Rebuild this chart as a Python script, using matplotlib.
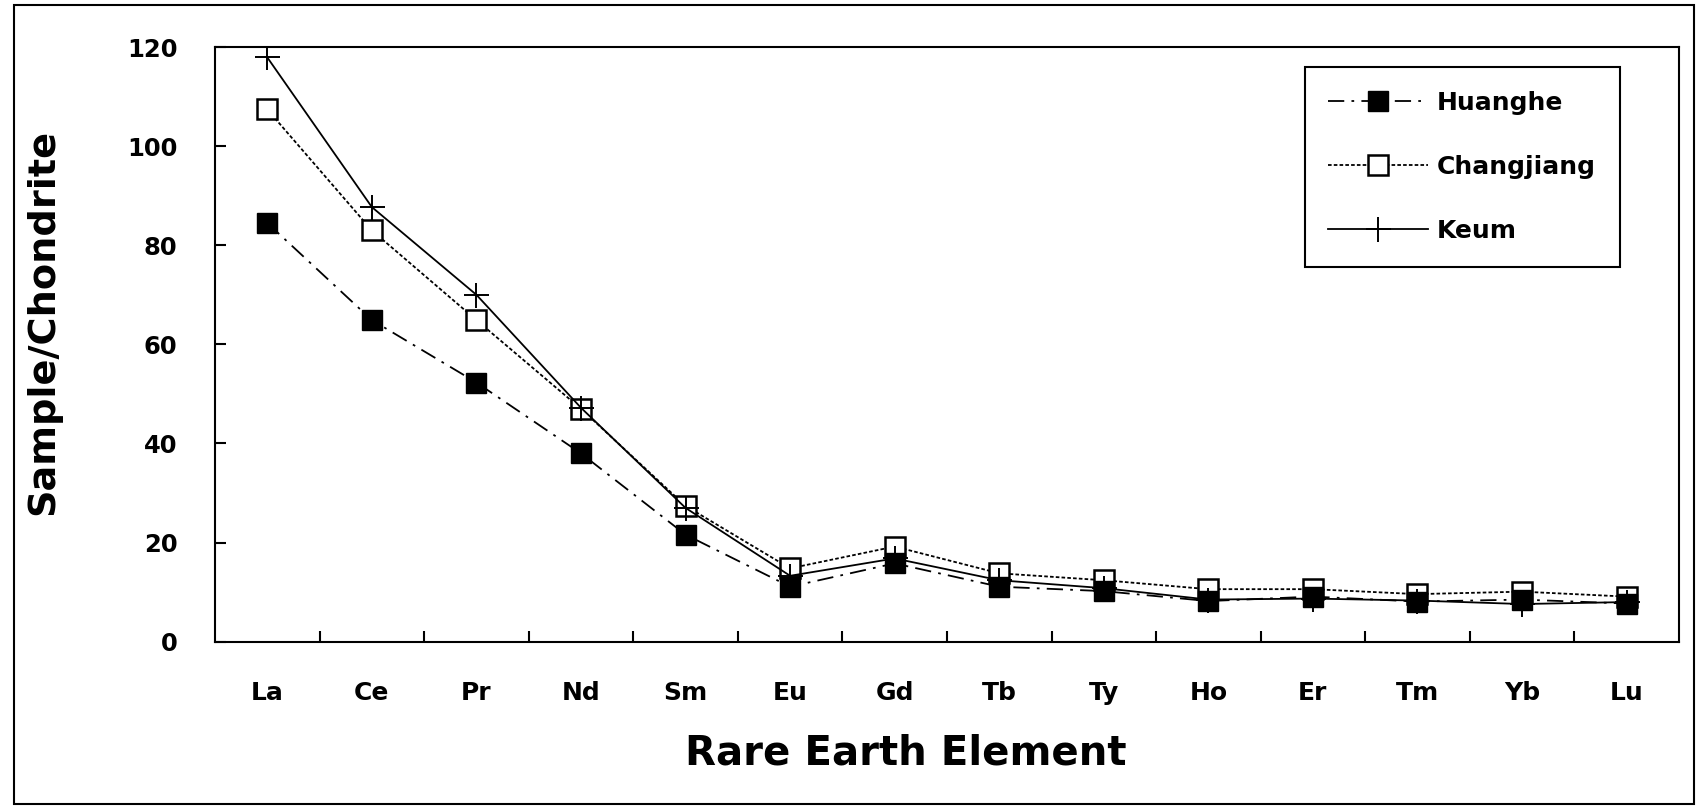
import matplotlib.pyplot as plt
from matplotlib.patches import Rectangle
from matplotlib.ticker import FixedLocator

elements = ["La", "Ce", "Pr", "Nd", "Sm", "Eu", "Gd", "Tb", "Ty", "Ho", "Er", "Tm", "Yb", "Lu"]
huanghe = [84.5, 64.9, 52.3, 38.0, 21.6, 11.1, 15.8, 11.1, 10.2, 8.2, 9.1, 8.1, 8.5, 7.7]
changjiang = [107.4, 83.0, 64.9, 47.0, 27.4, 14.8, 19.2, 13.8, 12.4, 10.6, 10.6, 9.6, 10.1, 9.1]
keum = [117.9, 87.7, 70.0, 47.2, 27.0, 13.3, 16.8, 12.4, 10.8, 8.5, 8.7, 8.3, 7.6, 8.0]
y_ticks = [0, 20, 40, 60, 80, 100, 120]

plt.rcParams['font.family'] = ['DejaVu Sans']
plt.rcParams['font.weight'] = 'bold'

fig = plt.figure(figsize=(17.01, 8.09), dpi=100)
ax = fig.add_axes([0.1264, 0.2068, 0.8606, 0.7351])

x = list(range(len(elements)))
ax.plot(x, changjiang, color='black', lw=1.3, linestyle=(0, (2, 1.2)),
        marker='s', markersize=14, markerfacecolor='white', markeredgecolor='black',
        markeredgewidth=1.8, label='Changjiang', zorder=3)
ax.plot(x, keum, color='black', lw=1.3, linestyle='-',
        marker='+', markersize=18, markeredgewidth=1.4, label='Keum', zorder=4)
ax.plot(x, huanghe, color='black', lw=1.3, linestyle=(0, (9, 4, 1.5, 4)),
        marker='s', markersize=14, markerfacecolor='black', markeredgecolor='black',
        label='Huanghe', zorder=5)

ax.set_xlim(-0.5, len(elements) - 0.5)
ax.set_ylim(0, 120)
ax.set_xticks(x)
ax.set_xticklabels(elements)
ax.xaxis.set_minor_locator(FixedLocator([i + 0.5 for i in range(len(elements) - 1)]))
ax.set_yticks(y_ticks)

ax.tick_params(axis='x', which='major', length=0, pad=28, labelsize=18)
ax.tick_params(axis='x', which='minor', direction='in', length=8, width=1.5)
ax.tick_params(axis='y', direction='in', length=8, width=1.5, pad=27, labelsize=17.5)
for s in ax.spines.values():
    s.set_linewidth(1.5)

ax.set_xlabel('Rare Earth Element', fontsize=29, fontweight='bold', labelpad=20)
ax.xaxis.set_label_coords(0.472, -0.155)
ax.set_ylabel('Sample/Chondrite', fontsize=27.5, fontweight='bold')
ax.yaxis.set_label_coords(-0.105, 0.537)

handles, labels = ax.get_legend_handles_labels()
order = [labels.index(n) for n in ['Huanghe', 'Changjiang', 'Keum']]
leg = ax.legend([handles[i] for i in order], [labels[i] for i in order],
                loc='upper right', bbox_to_anchor=(0.9597, 0.966), borderaxespad=0,
                fontsize=18, fancybox=False, edgecolor='black', framealpha=1,
                handlelength=4.0, labelspacing=1.6, borderpad=0.95, handletextpad=0.35)
leg.get_frame().set_linewidth(1.5)

fig.patches.append(Rectangle((0.008, 0.006), 0.988, 0.988, transform=fig.transFigure,
                             fill=False, edgecolor='black', linewidth=1.5))

fig.savefig('out.png', dpi=100)
